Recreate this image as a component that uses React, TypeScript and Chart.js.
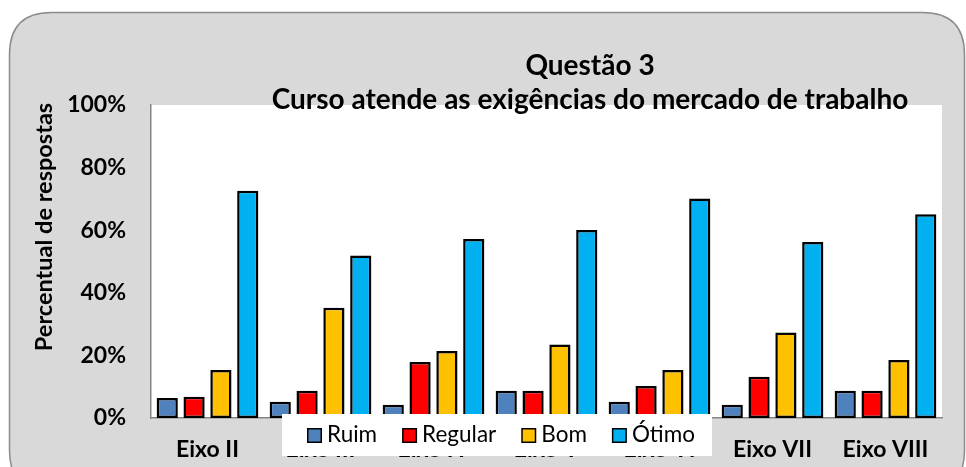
import { useEffect, useRef } from "react";
import { Chart, registerables } from "chart.js";

Chart.register(...registerables);

const categories = ["Eixo II", "Eixo III", "Eixo IV", "Eixo V", "Eixo VI", "Eixo VII", "Eixo VIII"];
const seriesNames = ["Ruim", "Regular", "Bom", "Ótimo"];
const ruim = [6.4, 5.2, 4.2, 8.7, 5.2, 4.2, 8.7];
const regular = [6.8, 8.7, 17.9, 8.7, 10.2, 13.2, 8.7];
const bom = [15.3, 35.2, 21.4, 23.5, 15.3, 27.3, 18.5];
const otimo = [72.6, 51.9, 57.2, 60.1, 70.1, 56.2, 65.1];
const seriesColors = ["#4F81BD", "#FF0000", "#FFC000", "#00B0F0"];
const yMax = 100;
const yStep = 20;
const titleLines = ["Questão 3", "Curso atende as exigências do mercado de trabalho"];
const yAxisTitle = "Percentual de respostas";

const FONT = "Lato, 'Open Sans', sans-serif";

const decorPlugin = {
  id: "decor",
  beforeDraw(chart: any) {
    const ctx = chart.ctx;
    const { width, height } = chart;
    ctx.save();
    ctx.fillStyle = "#FFFFFF";
    ctx.fillRect(0, 0, width, height);
    const x = 9.5, y = 12.5, w = 955, h = 480, r = 42;
    ctx.beginPath();
    ctx.moveTo(x + r, y);
    ctx.lineTo(x + w - r, y);
    ctx.quadraticCurveTo(x + w, y, x + w, y + r);
    ctx.lineTo(x + w, y + h - r);
    ctx.quadraticCurveTo(x + w, y + h, x + w - r, y + h);
    ctx.lineTo(x + r, y + h);
    ctx.quadraticCurveTo(x, y + h, x, y + h - r);
    ctx.lineTo(x, y + r);
    ctx.quadraticCurveTo(x, y, x + r, y);
    ctx.closePath();
    ctx.fillStyle = "#D9D9D9";
    ctx.fill();
    ctx.lineWidth = 1.5;
    ctx.strokeStyle = "#8C8C8C";
    ctx.stroke();
    const a = chart.chartArea;
    ctx.fillStyle = "#FFFFFF";
    ctx.fillRect(a.left, a.top, a.right - a.left, a.bottom - a.top);
    ctx.restore();
  },
  afterDraw(chart: any) {
    const ctx = chart.ctx;
    ctx.save();
    // title
    ctx.fillStyle = "#000000";
    ctx.textAlign = "center";
    ctx.textBaseline = "alphabetic";
    ctx.font = `bold 28px ${FONT}`;
    ctx.fillText(titleLines[0], 590, 75);
    ctx.fillText(titleLines[1], 590, 109);
    // y axis title
    ctx.save();
    ctx.translate(44, 227);
    ctx.rotate(-Math.PI / 2);
    ctx.textBaseline = "middle";
    ctx.font = `bold 23.5px ${FONT}`;
    ctx.fillText(yAxisTitle, 0, 0);
    ctx.restore();
    // legend
    ctx.font = `22.5px ${FONT}`;
    const boxLeft = 282;
    const boxTop = 414;
    const boxH = 42;
    let cx = 307;
    const items: { x: number; tx: number; w: number }[] = [];
    chart.data.datasets.forEach((ds: any) => {
      const tw = ctx.measureText(ds.label).width;
      items.push({ x: cx, tx: cx + 20, w: tw });
      cx = cx + 20 + tw + 25;
    });
    const last = items[items.length - 1];
    const boxRight = last.tx + last.w + 17;
    ctx.fillStyle = "#FFFFFF";
    ctx.fillRect(boxLeft, boxTop, boxRight - boxLeft, boxH);
    chart.data.datasets.forEach((ds: any, i: number) => {
      const it = items[i];
      ctx.fillStyle = ds.backgroundColor;
      ctx.fillRect(it.x + 0.75, 428.75, 13.5, 13.5);
      ctx.lineWidth = 1.5;
      ctx.strokeStyle = "#000000";
      ctx.strokeRect(it.x + 0.75, 428.75, 13.5, 13.5);
      ctx.fillStyle = "#000000";
      ctx.textAlign = "left";
      ctx.textBaseline = "alphabetic";
      ctx.fillText(ds.label, it.tx, 442);
    });
    ctx.restore();
  },
};

export default function App() {
  const ref = useRef<HTMLCanvasElement | null>(null);
  useEffect(() => {
    if (!ref.current) return;
    const values = [ruim, regular, bom, otimo];
    const chart = new Chart(ref.current, {
      type: "bar",
      data: {
        labels: categories,
        datasets: seriesNames.map((name, i) => ({
          label: name,
          data: values[i],
          backgroundColor: seriesColors[i],
          borderColor: "#000000",
          borderWidth: 2.5,
          borderSkipped: false,
          categoryPercentage: 0.95,
          barPercentage: 0.79,
        })),
      },
      options: {
        responsive: false,
        animation: false,
        devicePixelRatio: 1,
        layout: { padding: { top: 105, right: 24, left: 0, bottom: 0 } },
        plugins: {
          legend: { display: false },
          title: { display: false },
          tooltip: { enabled: false },
        },
        scales: {
          x: {
            grid: { display: false, drawTicks: false },
            border: { display: true, color: "#868686", width: 1.5 },
            ticks: {
              autoSkip: false,
              maxRotation: 0,
              padding: 18,
              color: "#000000",
              font: { family: FONT, size: 23, weight: "bold" },
            },
            afterFit: (s: any) => {
              s.height = 49;
            },
          },
          y: {
            min: 0,
            max: yMax,
            grid: { display: false, drawTicks: false },
            border: { display: true, color: "#868686", width: 1.5 },
            ticks: {
              stepSize: yStep,
              padding: 25,
              color: "#000000",
              font: { family: FONT, size: 23, weight: "bold" },
              callback: (v: any) => `${v}%`,
            },
            afterFit: (s: any) => {
              s.width = 151;
            },
          },
        },
      },
      plugins: [decorPlugin],
    });
    return () => chart.destroy();
  }, []);
  return (
    <div style={{ position: "fixed", left: 0, top: 0, width: 966, height: 467 }}>
      <canvas ref={ref} width={966} height={467} style={{ width: 966, height: 467, display: "block" }} />
    </div>
  );
}
